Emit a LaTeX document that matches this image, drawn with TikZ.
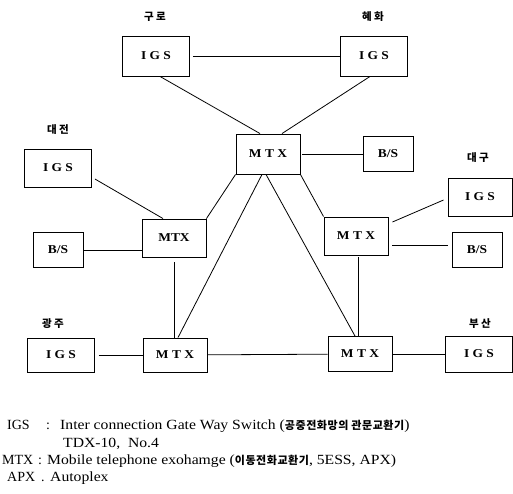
\documentclass[tikz,border=0pt]{standalone}
\usepackage{fontspec}
\setmainfont{Liberation Serif}
\newfontfamily\widefont{Liberation Serif}[FakeStretch=1.12]
\newfontfamily\krfont{Noto Sans CJK KR}
\newfontfamily\krwide{Noto Sans CJK KR}[LetterSpace=5]
\newcommand{\krtext}[1]{{\krwide\bfseries\fontsize{11}{12}\selectfont #1}}
\begin{document}
\begin{tikzpicture}[
        x=1pt, y=-1pt,
        box/.style={draw, line width=0.9pt, inner sep=0pt, font=\widefont\fontsize{12}{14}\selectfont\bfseries, text centered},
        igs/.style={box, minimum width=67pt, minimum height=38pt},
        mtx/.style={box, minimum width=64pt, minimum height=38pt},
        bs/.style={box, minimum width=50pt, minimum height=35pt},
        city/.style={font=\krfont\fontsize{10.5}{12}\selectfont\bfseries},
        link/.style={line width=0.8pt},
        legend/.style={anchor=base west, inner sep=0pt, font=\fontsize{14}{16}\selectfont},
        legtext/.style={legend, font=\widefont\fontsize{14}{16}\selectfont}
    ]
        \useasboundingbox (0,0) rectangle (513,493);

        % Gateway switches
        \node[igs, minimum height=40pt] (igsGuro) at (156,56) {I G S};
        \node[igs, minimum height=40pt] (igsHyehwa) at (374,56) {I G S};
        \node[igs] (igsDaejeon) at (58,168) {I G S};
        \node[igs, minimum width=64pt] (igsDaegu) at (480,197) {I G S};
        \node[igs, minimum height=34pt] (igsGwangju) at (61,355) {I G S};
        \node[igs, minimum height=36pt] (igsBusan) at (479,354) {I G S};

        % Mobile exchanges
        \node[mtx, minimum height=40pt] (mtxC) at (268,154) {M T X};
        \node[mtx] (mtxL) at (174,238) {MTX};
        \node[mtx] (mtxR) at (356,236) {M T X};
        \node[mtx, minimum height=34pt] (mtxBL) at (175,355) {M T X};
        \node[mtx, minimum height=35pt] (mtxBR) at (360,354) {M T X};

        % Base stations
        \node[bs] (bsC) at (388,154) {B/S};
        \node[bs] (bsL) at (58,250) {B/S};
        \node[bs] (bsR) at (477,250) {B/S};

        % City names
        \node[city] (nGuro) at (155,17) {구 로};
        \node[city] (nHyehwa) at (373,17) {혜 화};
        \node[city] (nDaejeon) at (58,130) {대 전};
        \node[city] (nDaegu) at (478,158) {대 구};
        \node[city] (nGwangju) at (53,324) {광 주};
        \node[city] (nBusan) at (480,324) {부 산};

        % Connections
        \draw[link, shorten <=3pt] (igsGuro) -- (igsHyehwa);
        \draw[link] ([shift={(4,0)}]igsGuro.south) -- ([shift={(-8,0)}]mtxC.north);
        \draw[link] ([shift={(-4,0)}]igsHyehwa.south) -- ([shift={(14,0)}]mtxC.north);
        \draw[link, shorten <=2pt] (mtxC) -- (bsC);

        \draw[link] (mtxC.south west) -- (mtxL.north east);
        \draw[link] ([shift={(-6,0)}]mtxC.south) -- ([shift={(3,0)}]mtxBL.north);
        \draw[link] ([shift={(-2,0)}]mtxC.south) -- ([shift={(-5,0)}]mtxBR.north);
        \draw[link] (mtxC.south east) -- (mtxR.north west);

        \draw[link] ([shift={(3,11)}]igsDaejeon.east) -- ([shift={(-11,0)}]mtxL.north);
        \draw[link] (bsL) -- (mtxL.west |- bsL);
        \draw[link, shorten <=5pt] (mtxL.south) -- (mtxL.south |- mtxBL.north);

        \draw[link] ([shift={(4,-14)}]mtxR.east) -- ([shift={(-4,3)}]igsDaegu.west);
        \draw[link] ([shift={(4,9)}]mtxR.east) -- ([shift={(-4,-5)}]bsR.west);
        \draw[link, shorten <=2pt] ([shift={(2,0)}]mtxR.south) -- ([shift={(-2,0)}]mtxBR.north);

        \draw[link, shorten <=4pt] (igsGwangju) -- (mtxBL);
        \draw[link] (mtxBL) -- (mtxBR);
        \draw[link] (mtxBR) -- (igsBusan);

        % Legend
        \node[legend] (kIGS) at (7,429) {IGS};
        \node[legend] (cIGS) at (46,429) {:};
        \node[legtext] (dIGS) at (60,429) {Inter connection Gate Way Switch (\krtext{공중전화망의 관문교환기})};
        \node[legtext] (dIGS2) at (63,447) {TDX-10,\ \ No.4};
        \node[legend] (kMTX) at (2,464) {MTX};
        \node[legend] (cMTX) at (38,464) {:};
        \node[legtext] (dMTX) at (47,464) {Mobile telephone exohamge (\krtext{이동전화교환기}, 5ESS, APX)};
        \node[legend] (kAPX) at (7,481) {APX};
        \node[legend] (cAPX) at (41,481) {.};
        \node[legtext] (dAPX) at (50,481) {Autoplex};
\end{tikzpicture}
\end{document}
